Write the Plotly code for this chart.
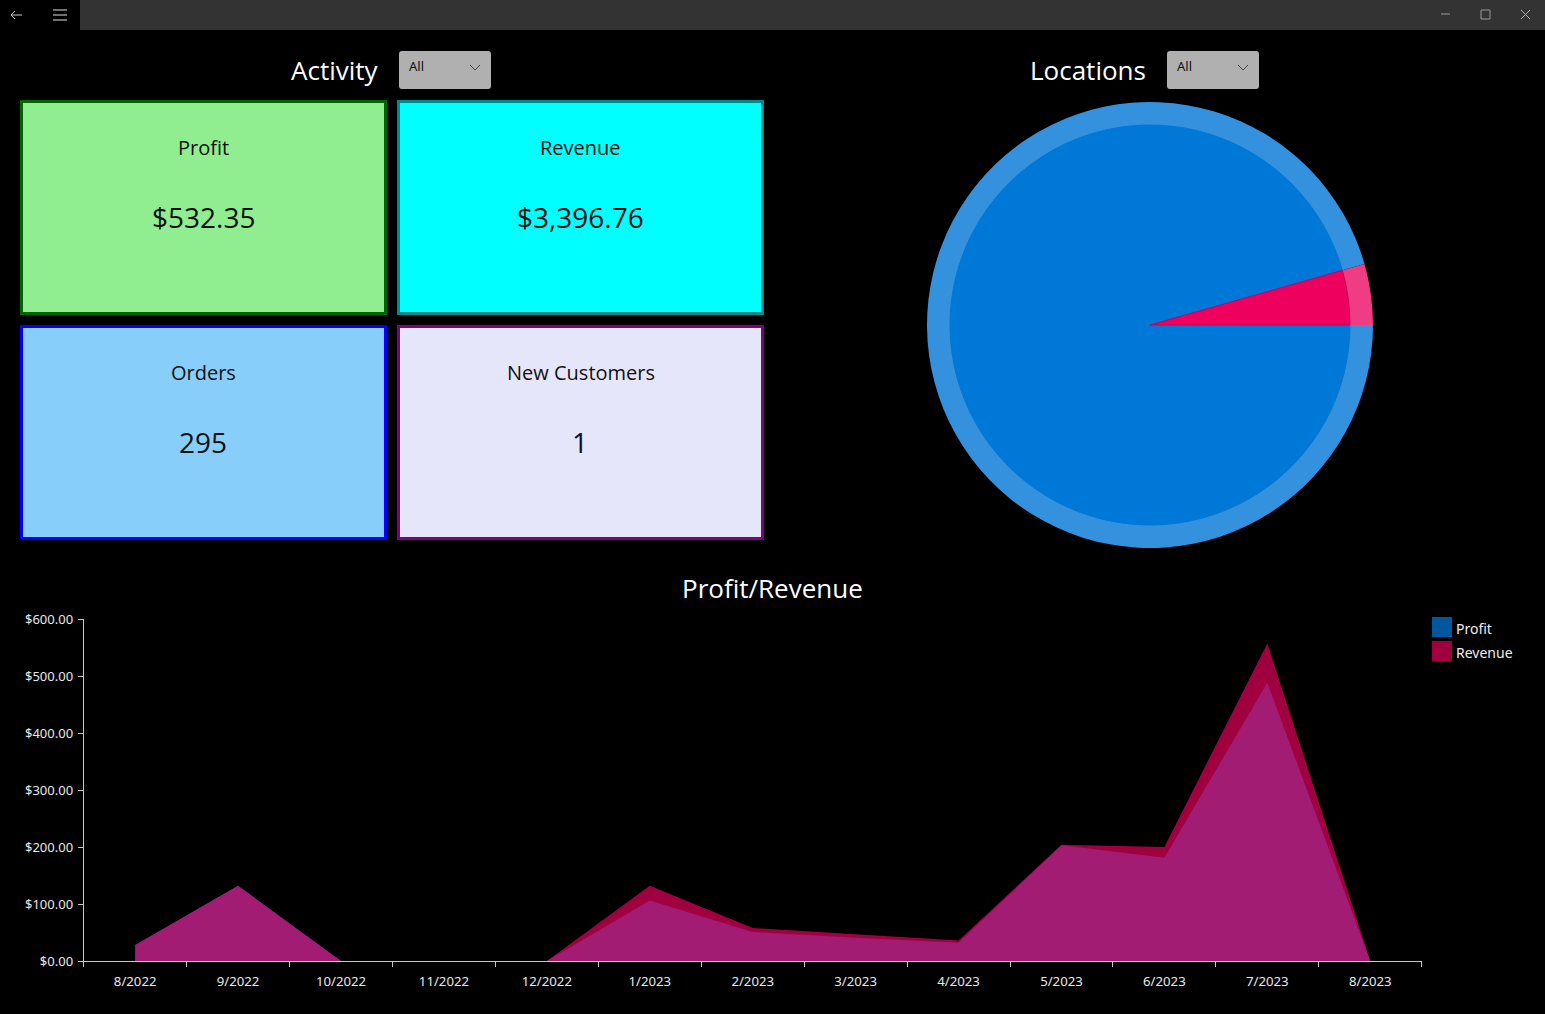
import plotly.graph_objects as go

W, H = 1545, 1014

months = ["8/2022", "9/2022", "10/2022", "11/2022", "12/2022", "1/2023", "2/2023",
          "3/2023", "4/2023", "5/2023", "6/2023", "7/2023", "8/2023"]
profit = [28, 132, 0, 0, 0, 106, 51, 41, 32, 203, 181, 488, 0]
revenue = [28, 132, 0, 0, 0, 132, 58, 47, 36, 204, 200, 557, 0]

location_names = ["Main", "Other"]
location_orders = [282, 13]

card_titles = ["Profit", "Revenue", "Orders", "New Customers"]
card_values = ["$532.35", "$3,396.76", "295", "1"]
card_fills = ["#90EE90", "#00FFFF", "#87CEFA", "#E6E6FA"]
card_borders = ["#006400", "#008B8B", "#0000FF", "#800080"]

TITLE_FONT = "Open Sans"
AXIS_FONT = "Noto Sans"


def px(x):
    return x / W


def py(y):
    return 1 - y / H


def rounded(x0, y0, x1, y1, r):
    return (f"M{px(x0 + r)},{py(y0)} L{px(x1 - r)},{py(y0)} Q{px(x1)},{py(y0)} {px(x1)},{py(y0 + r)} "
            f"L{px(x1)},{py(y1 - r)} Q{px(x1)},{py(y1)} {px(x1 - r)},{py(y1)} "
            f"L{px(x0 + r)},{py(y1)} Q{px(x0)},{py(y1)} {px(x0)},{py(y1 - r)} "
            f"L{px(x0)},{py(y0 + r)} Q{px(x0)},{py(y0)} {px(x0 + r)},{py(y0)} Z")


def polyline(points):
    return "M" + " L".join(f"{px(x)},{py(y)}" for x, y in points)


shapes = []
annotations = []


def rect(x0, y0, x1, y1, fill, line=None, width=0):
    shapes.append(dict(type="rect", xref="paper", yref="paper", x0=px(x0), x1=px(x1), y0=py(y1), y1=py(y0),
                       fillcolor=fill, line=dict(color=line, width=width), layer="below"))


def stroke(points, color="#c8c8c8", width=1):
    shapes.append(dict(type="path", xref="paper", yref="paper", path=polyline(points),
                       line=dict(color=color, width=width)))


def label(x, y, text, size, color="white", anchor="center", font=TITLE_FONT):
    annotations.append(dict(xref="paper", yref="paper", x=px(x), y=py(y), text=text, showarrow=False,
                            xanchor=anchor, yanchor="middle", font=dict(family=font, size=size, color=color)))


# window title bar
rect(80, 0, W, 30, "#333333")
stroke([(22, 15), (11, 15)])
stroke([(15, 11), (11, 15), (15, 19)])
for y in [10, 15, 20]:
    stroke([(53, y), (67, y)], "#e0e0e0")
stroke([(1441, 14), (1450, 14)], "#9a9a9a")
stroke([(1481, 10), (1490, 10), (1490, 19), (1481, 19), (1481, 10)], "#9a9a9a")
stroke([(1521, 10), (1530, 19)], "#b0b0b0")
stroke([(1530, 10), (1521, 19)], "#b0b0b0")

# headers and dropdowns
label(381, 70, "Activity", 26, anchor="right")
label(1148, 70, "Locations", 26, anchor="right")
label(772, 588, "Profit/Revenue", 26)
for x0 in [399, 1167]:
    shapes.append(dict(type="path", xref="paper", yref="paper", path=rounded(x0, 51, x0 + 92, 89, 3),
                       fillcolor="#b0b0b0", line=dict(width=0)))
    label(x0 + 8, 66, "All", 13, color="#111111", anchor="left", font=AXIS_FONT)
    stroke([(x0 + 71, 65), (x0 + 76, 70), (x0 + 81, 65)], "#444444")

# activity cards
card_x = [20, 397, 20, 397]
card_y = [100, 100, 325, 325]
for i in range(4):
    x0, y0 = card_x[i], card_y[i]
    rect(x0 + 1.5, y0 + 1.5, x0 + 365.5, y0 + 213.5, card_fills[i], card_borders[i], 3)
    label(x0 + 183.5, y0 + 47.5, card_titles[i], 20, color="#111111")
    label(x0 + 183, y0 + 117, card_values[i], 28, color="#111111")

# legend, drawn by hand because the swatches are bigger than plotly's
legend_colors = ["rgba(0,120,215,0.72)", "rgba(238,0,95,0.68)"]
for i, name in enumerate(["Profit", "Revenue"]):
    rect(1432, 617 + 24 * i, 1452, 637 + 24 * i, legend_colors[i])
    label(1454, 628 + 24 * i, name, 14, color="#eeeeee", anchor="left", font=AXIS_FONT)

fig = go.Figure()

# pie, ring is a bigger lighter pie sitting behind
fig.add_trace(go.Pie(labels=location_names, values=location_orders, sort=False, direction="clockwise",
                     rotation=90, textinfo="none", hoverinfo="skip", showlegend=False,
                     marker=dict(colors=["#3391DE", "#F03B85"], line=dict(width=0)),
                     domain=dict(x=[px(927), px(1373)], y=[py(548), py(102)])))
fig.add_trace(go.Pie(labels=location_names, values=location_orders, sort=False, direction="clockwise",
                     rotation=90, textinfo="none", showlegend=False,
                     marker=dict(colors=["#0078D7", "#EE005F"], line=dict(color=["#0078D7", "#C8005F"], width=1)),
                     domain=dict(x=[px(950), px(1350)], y=[py(525), py(125)])))

# areas
fig.add_trace(go.Scatter(x=months, y=profit, name="Profit", mode="none", fill="tozeroy",
                         fillcolor=legend_colors[0], showlegend=False))
fig.add_trace(go.Scatter(x=months, y=revenue, name="Revenue", mode="none", fill="tozeroy",
                         fillcolor=legend_colors[1], showlegend=False))

fig.update_layout(
    width=W, height=H,
    margin=dict(l=0, r=0, t=0, b=0),
    paper_bgcolor="black", plot_bgcolor="black",
    shapes=shapes, annotations=annotations,
    xaxis=dict(domain=[px(83.7), px(1421.7)], type="category", categoryorder="array", categoryarray=months,
               range=[-0.5, 12.5], tickson="boundaries", ticks="outside", ticklen=5, tickcolor="#c8c8c8",
               showline=True, linecolor="#c8c8c8", showgrid=False, zeroline=False, tickangle=0,
               automargin=False, ticklabelstandoff=8,
               tickfont=dict(family=AXIS_FONT, size=13.2, color="#e8e8e8")),
    yaxis=dict(domain=[py(961), py(619)], range=[0, 600], tickvals=[0, 100, 200, 300, 400, 500, 600],
               tickformat="$,.2f", ticks="outside", ticklen=5, tickcolor="#c8c8c8",
               showline=True, linecolor="#c8c8c8", showgrid=False, zeroline=False,
               automargin=False, ticklabelstandoff=2,
               tickfont=dict(family=AXIS_FONT, size=13, color="#e8e8e8")),
)

fig.write_html("out.html", config={"displayModeBar": False},
               post_script="document.body.style.margin='0';document.body.style.background='black';")
